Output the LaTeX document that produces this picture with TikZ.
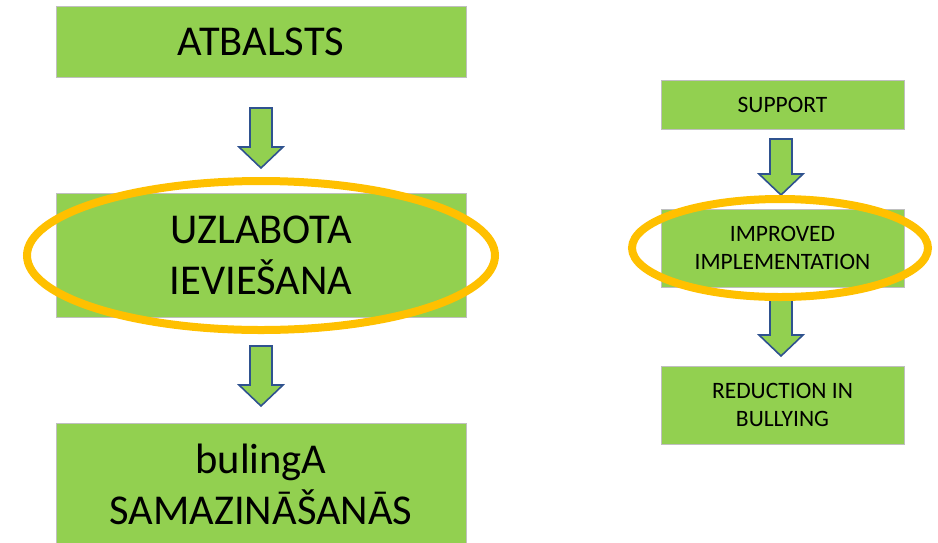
\documentclass[tikz,border=0pt]{standalone}
\usepackage{fontspec}
\setmainfont{Carlito}
\usepackage{tikz}
\usetikzlibrary{calc,positioning}

\definecolor{boxgreen}{HTML}{92D050}
\definecolor{boxgray}{HTML}{BFBFBF}
\definecolor{arrblue}{HTML}{2F528F}
\definecolor{ringgold}{HTML}{FFC000}

\tikzset{
  box/.style={draw=boxgray, fill=boxgreen, line width=1pt, align=center, inner sep=0pt},
  bigbox/.style={box, minimum width=410pt, font=\fontsize{42.5}{51}\selectfont},
  smallbox/.style={box, minimum width=243pt, font=\fontsize{23.5}{28}\selectfont},
  blockarr/.style={draw=arrblue, fill=boxgreen, line width=1.6pt, line join=miter},
  ring/.style={draw=ringgold, line width=8pt}
}

% block arrow from shaft top (#1) down to tip (#2)
\newcommand\blockarrow[2]{%
  \draw[blockarr] ($(#1)+(-11,0)$) -- ($(#1)+(11,0)$) -- ($(#2)+(11,-21)$)
    -- ($(#2)+(22,-21)$) -- (#2) -- ($(#2)+(-22,-21)$) -- ($(#2)+(-11,-21)$) -- cycle;}

\begin{document}
\begin{tikzpicture}[x=1pt,y=-1pt]
\useasboundingbox (0,0) rectangle (938,542);

% left column
\node[bigbox, minimum height=71pt]  (atb) at (261,41.5)  {ATBALSTS};
\node[bigbox, minimum height=124pt] (uzl) at (261,255)   {UZLABOTA\\IEVIEŠANA};
\node[bigbox, minimum height=123pt] (bul) at (261,484.5) {bulingA\\SAMAZINĀŠANĀS};

% right column
\node[smallbox, minimum height=49pt] (sup) at (782.5,104.5) {SUPPORT};
\node[smallbox, minimum height=78pt] (imp) at (782.5,248)   {IMPROVED\\IMPLEMENTATION};
\node[smallbox, minimum height=78pt] (red) at (782.5,405)   {REDUCTION IN\\BULLYING};

\coordinate (a1s) at (261,108);  \coordinate (a1t) at (261,168);
\coordinate (a2s) at (261,346);  \coordinate (a2t) at (261,406);
\coordinate (b1s) at (781,139);  \coordinate (b1t) at (781,195);
\coordinate (b2s) at (781,297);  \coordinate (b2t) at (781,356);

\blockarrow{a1s}{a1t}
\blockarrow{a2s}{a2t}
\blockarrow{b1s}{b1t}
\blockarrow{b2s}{b2t}

% highlight rings
\draw[ring] ([yshift=-0.5pt]uzl.center) ellipse [x radius=234, y radius=74.5];
\draw[ring] ([xshift=-2.5pt]imp.center) ellipse [x radius=148, y radius=49];

\end{tikzpicture}
\end{document}
